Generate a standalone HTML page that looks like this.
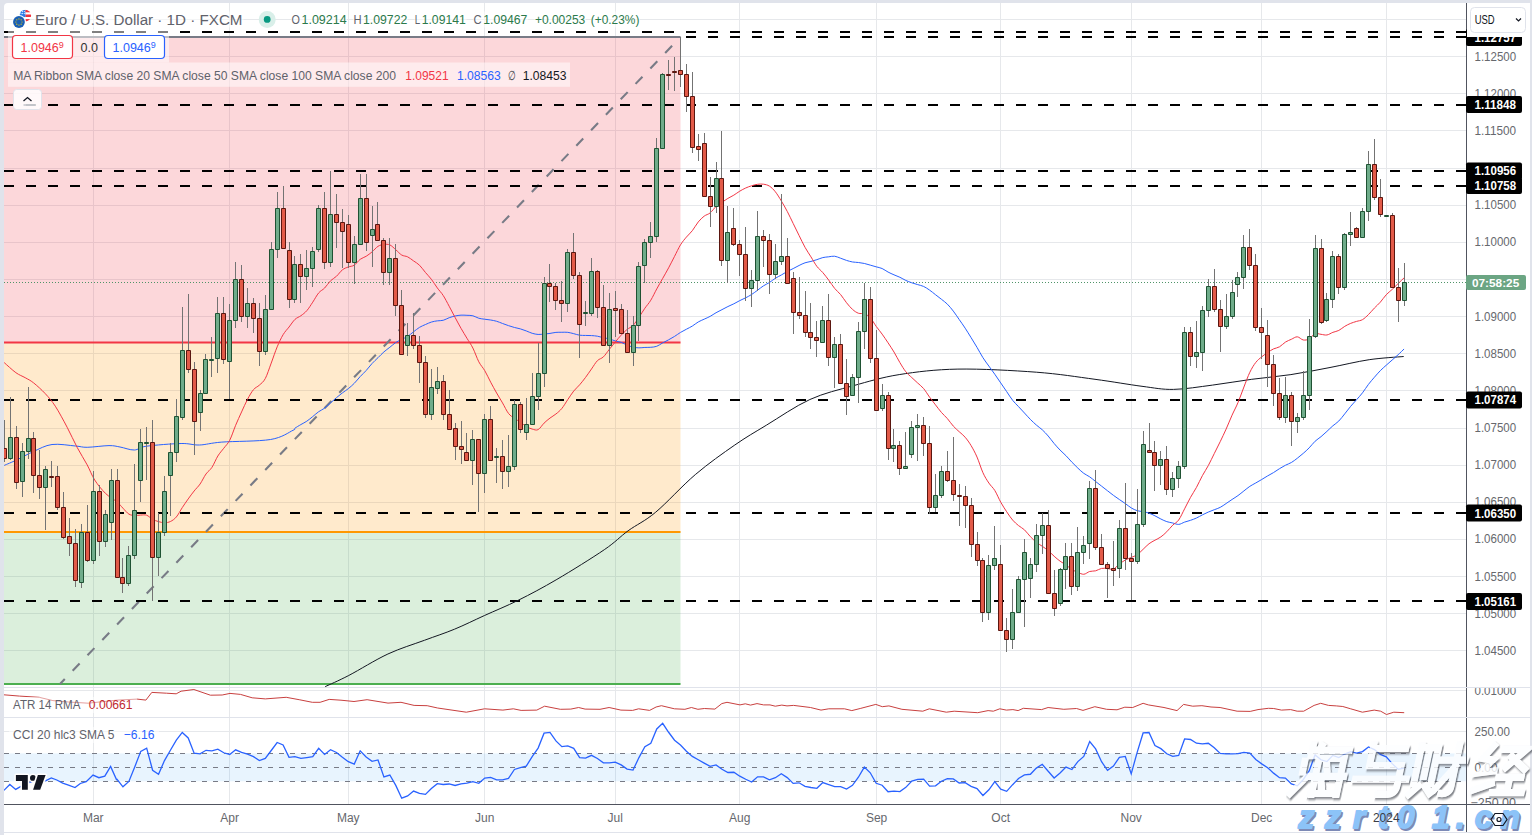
<!DOCTYPE html>
<html><head><meta charset="utf-8">
<style>
html,body{margin:0;padding:0;}
body{width:1532px;height:835px;overflow:hidden;background:#e0e3eb;position:relative;font-family:"Liberation Sans",sans-serif;}
#panel{position:absolute;left:4px;top:3px;width:1526px;height:832px;background:#fff;border-radius:4px 4px 0 0;overflow:hidden;}
svg{position:absolute;left:0;top:0;}
.t{position:absolute;white-space:nowrap;line-height:1;}
</style></head><body>
<div id="panel"></div>
<svg width="1532" height="835" viewBox="0 0 1532 835" font-family="Liberation Sans, sans-serif">
<defs>
<clipPath id="plot"><rect x="4" y="3" width="1462" height="684"/></clipPath>
<clipPath id="ccip"><rect x="4" y="718" width="1462" height="86"/></clipPath>
<clipPath id="atrp"><rect x="4" y="688" width="1462" height="29"/></clipPath>
</defs>
<g clip-path="url(#plot)">
<path d="M4 650.5 H1466 M4 613.5 H1466 M4 576.5 H1466 M4 539.5 H1466 M4 502.5 H1466 M4 465.5 H1466 M4 428.5 H1466 M4 390.5 H1466 M4 353.5 H1466 M4 316.5 H1466 M4 279.5 H1466 M4 242.5 H1466 M4 205.5 H1466 M4 168.5 H1466 M4 130.5 H1466 M4 93.5 H1466 M4 56.5 H1466 M4 19.5 H1466 M93.5 3 V804 M229.5 3 V804 M348.5 3 V804 M484.5 3 V804 M615.5 3 V804 M739.5 3 V804 M876.5 3 V804 M1000.5 3 V804 M1131.5 3 V804 M1261.5 3 V804 M1386.5 3 V804" stroke="#e6e8eb" stroke-width="1" fill="none"/>
<rect x="4" y="37" width="676.5" height="305.6" fill="rgba(242,54,69,0.2)"/>
<rect x="4" y="342.6" width="676.5" height="189.3" fill="rgba(255,152,0,0.2)"/>
<rect x="4" y="531.9" width="676.5" height="152.1" fill="rgba(76,175,80,0.2)"/>
<path d="M4 37 H680.5" stroke="#787b86" stroke-width="2"/>
<path d="M4 342.6 H680.5" stroke="#f23645" stroke-width="2"/>
<path d="M4 531.9 H680.5" stroke="#ff9800" stroke-width="2"/>
<path d="M4 684 H680.5" stroke="#4caf50" stroke-width="2"/>
<path d="M60 684 L680.5 37" stroke="#787b86" stroke-width="2.1" stroke-dasharray="10 11.4" stroke-dashoffset="3.1" fill="none"/>
<path d="M4 32 H1466 M4 105 H1466 M4 171 H1466 M4 186 H1466 M4 400 H1466 M4 513 H1466 M4 601 H1466" stroke="#000" stroke-width="2.2" stroke-dasharray="10 12" fill="none"/>
<path d="M686 37 H1466" stroke="#000" stroke-width="2.2" stroke-dasharray="10 12" fill="none"/>
<path d="M4 282.5 H1466" stroke="#4f9468" stroke-width="1" stroke-dasharray="1 2" fill="none"/>
<path d="M325.2 686.6 C329.12 684.75 338.25 680.93 348.7 675.5 C359.15 670.07 375.28 659.87 387.9 654 C400.52 648.13 413.3 644.43 424.4 640.3 C435.5 636.17 444.48 633.33 454.5 629.2 C464.52 625.07 473.85 620.33 484.5 615.5 C495.15 610.67 506.33 606.22 518.4 600.2 C530.47 594.18 542.58 587.82 556.9 579.4 C571.22 570.98 592.43 557.8 604.3 549.7 C616.17 541.6 619.53 537.05 628.1 530.8 C636.67 524.55 644.5 521.57 655.7 512.2 C666.9 502.83 682.12 485.8 695.3 474.6 C708.48 463.4 722.95 453.23 734.8 445 C746.65 436.77 753.88 432.78 766.4 425.2 C778.92 417.62 795.4 406.08 809.9 399.5 C824.4 392.92 838.52 389.85 853.4 385.7 C868.28 381.55 881.78 377.37 899.2 374.6 C916.62 371.83 935.05 369.5 957.9 369.1 C980.75 368.7 1013.45 370.5 1036.3 372.2 C1059.15 373.9 1077.38 376.95 1095 379.3 C1112.62 381.65 1128.93 384.62 1142 386.3 C1155.07 387.98 1161.65 389.6 1173.4 389.4 C1185.15 389.2 1199.45 386.78 1212.5 385.1 C1225.55 383.42 1238.63 381.05 1251.7 379.3 C1264.77 377.55 1277.85 376.57 1290.9 374.6 C1303.95 372.63 1316.95 369.98 1330 367.5 C1343.05 365.02 1356.92 361.53 1369.2 359.7 C1381.48 357.87 1397.95 357.03 1403.7 356.5" stroke="#131722" stroke-width="1" fill="none"/>
<path d="M4.2 465.4 C6.3 464.48 11.92 462.22 16.8 459.9 C21.68 457.58 27.63 454.07 33.5 451.5 C39.37 448.93 45 445.42 52 444.5 C59 443.58 69.63 445.53 75.5 446 C81.37 446.47 81.62 447.37 87.2 447.3 C92.78 447.23 103.53 445.65 109 445.6 C114.47 445.55 115.78 446.27 120 447 C124.22 447.73 129.88 450.13 134.3 450 C138.72 449.87 138.7 447.28 146.5 446.2 C154.3 445.12 172.28 443.7 181.1 443.5 C189.92 443.3 192.62 445.23 199.4 445 C206.18 444.77 209.93 443.02 221.8 442.1 C233.67 441.18 258.73 441.47 270.6 439.5 C282.47 437.53 288.94 432.18 293 430.3 C297.06 428.42 293.64 429.16 294.95 428.2 C296.27 427.24 298.91 425.73 300.88 424.56 C302.86 423.39 304.84 422.51 306.82 421.18 C308.79 419.85 310.77 418.14 312.75 416.56 C314.72 414.98 316.7 413.1 318.68 411.7 C320.65 410.31 322.63 409.63 324.61 408.18 C326.59 406.72 328.56 404.7 330.54 402.95 C332.52 401.2 334.49 399.35 336.47 397.67 C338.45 395.99 340.42 394.41 342.4 392.9 C344.38 391.39 346.36 390.21 348.33 388.62 C350.31 387.02 352.29 385.35 354.26 383.34 C356.24 381.33 358.22 378.7 360.19 376.57 C362.17 374.44 364.15 372.72 366.13 370.55 C368.1 368.38 370.08 365.67 372.06 363.53 C374.03 361.39 376.01 359.63 377.99 357.69 C379.97 355.76 381.94 353.65 383.92 351.91 C385.9 350.17 387.87 348.81 389.85 347.25 C391.83 345.69 393.8 343.85 395.78 342.52 C397.76 341.2 399.74 340.34 401.71 339.32 C403.69 338.3 405.67 337.68 407.64 336.42 C409.62 335.17 411.6 333.29 413.57 331.78 C415.55 330.28 417.53 328.58 419.5 327.37 C421.48 326.16 423.46 325.42 425.44 324.54 C427.41 323.66 429.39 322.69 431.37 322.07 C433.34 321.46 435.32 321.14 437.3 320.85 C439.27 320.55 441.25 320.81 443.23 320.29 C445.21 319.77 447.18 318.43 449.16 317.72 C451.14 317 453.11 316.43 455.09 316 C457.07 315.57 459.04 315.27 461.02 315.15 C463 315.03 464.98 315.21 466.95 315.31 C468.93 315.41 470.91 315.28 472.88 315.77 C474.86 316.26 476.84 317.66 478.81 318.24 C480.79 318.81 482.77 318.94 484.75 319.23 C486.72 319.53 488.7 319.67 490.68 320.01 C492.65 320.35 494.63 320.69 496.61 321.27 C498.58 321.85 500.56 322.77 502.54 323.49 C504.52 324.22 506.49 324.98 508.47 325.64 C510.45 326.3 512.42 326.93 514.4 327.46 C516.38 328 518.36 328.29 520.33 328.87 C522.31 329.44 524.29 330.2 526.26 330.93 C528.24 331.67 530.22 332.7 532.19 333.29 C534.17 333.87 536.15 334.31 538.12 334.44 C540.1 334.57 542.08 334.22 544.06 334.05 C546.03 333.88 548.01 333.7 549.99 333.42 C551.96 333.14 553.94 332.58 555.92 332.39 C557.89 332.2 559.87 332.29 561.85 332.28 C563.83 332.27 565.8 332.1 567.78 332.33 C569.76 332.56 571.73 333.2 573.71 333.67 C575.69 334.15 577.66 334.9 579.64 335.19 C581.62 335.49 583.6 335.38 585.57 335.45 C587.55 335.51 589.53 335.46 591.5 335.58 C593.48 335.71 595.46 335.85 597.43 336.21 C599.41 336.56 601.39 337.29 603.37 337.73 C605.34 338.18 607.32 338.36 609.3 338.89 C611.27 339.42 613.25 340.34 615.23 340.92 C617.2 341.5 619.18 341.65 621.16 342.34 C623.14 343.04 625.11 344.29 627.09 345.09 C629.07 345.89 631.04 346.68 633.02 347.14 C635 347.6 636.98 347.79 638.95 347.84 C640.93 347.89 642.91 347.53 644.88 347.44 C646.86 347.34 648.84 347.48 650.81 347.29 C652.79 347.1 654.77 347.01 656.75 346.28 C658.72 345.55 660.7 343.98 662.68 342.9 C664.65 341.82 666.63 340.88 668.61 339.8 C670.58 338.72 672.56 337.63 674.54 336.41 C676.51 335.18 678.49 333.64 680.47 332.45 C682.45 331.25 684.42 330.28 686.4 329.22 C688.38 328.15 690.35 327.26 692.33 326.05 C694.31 324.84 696.28 323.1 698.26 321.96 C700.24 320.81 702.22 320.09 704.19 319.16 C706.17 318.23 708.15 317.46 710.12 316.39 C712.1 315.31 714.08 313.83 716.05 312.71 C718.03 311.58 720.01 310.67 721.99 309.64 C723.96 308.61 725.94 307.51 727.92 306.54 C729.89 305.57 731.87 304.8 733.85 303.81 C735.82 302.82 737.8 301.6 739.78 300.6 C741.76 299.6 743.73 298.82 745.71 297.79 C747.69 296.77 749.66 295.73 751.64 294.47 C753.62 293.21 755.6 291.67 757.57 290.22 C759.55 288.78 761.53 287.1 763.5 285.82 C765.48 284.54 767.46 283.78 769.43 282.52 C771.41 281.26 773.39 279.52 775.37 278.27 C777.34 277.02 779.32 276.15 781.3 275.01 C783.27 273.88 785.25 272.54 787.23 271.47 C789.2 270.4 791.18 269.58 793.16 268.58 C795.13 267.58 797.11 266.44 799.09 265.47 C801.07 264.51 803.04 263.47 805.02 262.8 C807 262.13 808.97 261.97 810.95 261.45 C812.93 260.93 814.9 260.31 816.88 259.67 C818.86 259.02 820.84 258.07 822.81 257.59 C824.79 257.12 826.77 257.04 828.74 256.81 C830.72 256.58 832.7 255.99 834.67 256.23 C836.65 256.46 838.63 257.52 840.61 258.22 C842.58 258.92 844.56 259.79 846.54 260.41 C848.51 261.03 850.49 261.61 852.47 261.96 C854.44 262.31 856.42 262.26 858.4 262.51 C860.38 262.76 862.35 263.03 864.33 263.46 C866.31 263.9 868.28 264.55 870.26 265.12 C872.24 265.68 874.22 266.28 876.19 266.84 C878.17 267.41 880.15 267.65 882.12 268.52 C884.1 269.38 886.08 271.01 888.05 272.06 C890.03 273.11 892.01 273.95 893.99 274.82 C895.96 275.69 897.94 276.35 899.92 277.29 C901.89 278.23 903.87 279.52 905.85 280.44 C907.82 281.35 909.8 282.09 911.78 282.79 C913.75 283.49 915.73 284.01 917.71 284.62 C919.69 285.23 921.66 285.54 923.64 286.45 C925.62 287.36 927.59 288.73 929.57 290.1 C931.55 291.47 933.52 293.17 935.5 294.7 C937.48 296.23 939.46 297.7 941.43 299.28 C943.41 300.86 945.39 302.19 947.36 304.16 C949.34 306.13 951.32 308.53 953.29 311.1 C955.27 313.66 957.25 316.7 959.23 319.55 C961.2 322.39 963.18 325.15 965.16 328.17 C967.13 331.18 969.11 334.44 971.09 337.64 C973.06 340.84 975.04 344.04 977.02 347.38 C979 350.72 980.97 354.59 982.95 357.7 C984.93 360.82 986.9 363.32 988.88 366.08 C990.86 368.83 992.84 371.44 994.81 374.25 C996.79 377.06 998.77 380.05 1000.74 382.94 C1002.72 385.83 1004.7 388.7 1006.67 391.58 C1008.65 394.47 1010.63 397.74 1012.61 400.25 C1014.58 402.76 1016.56 404.5 1018.54 406.63 C1020.51 408.76 1022.49 410.89 1024.47 413.02 C1026.44 415.15 1028.42 417.41 1030.4 419.41 C1032.38 421.41 1034.35 423.31 1036.33 425.03 C1038.31 426.76 1040.28 427.94 1042.26 429.77 C1044.24 431.6 1046.21 433.74 1048.19 436.02 C1050.17 438.31 1052.14 441.13 1054.12 443.47 C1056.1 445.81 1058.08 448.02 1060.05 450.05 C1062.03 452.09 1064.01 453.67 1065.98 455.69 C1067.96 457.71 1069.94 460.12 1071.91 462.19 C1073.89 464.25 1075.87 466.25 1077.85 468.1 C1079.82 469.96 1081.8 471.88 1083.78 473.34 C1085.75 474.8 1087.73 475.5 1089.71 476.86 C1091.69 478.23 1093.66 479.96 1095.64 481.5 C1097.62 483.05 1099.59 484.6 1101.57 486.14 C1103.55 487.68 1105.52 489.22 1107.5 490.75 C1109.48 492.28 1111.45 493.89 1113.43 495.35 C1115.41 496.81 1117.39 498.15 1119.36 499.52 C1121.34 500.89 1123.32 502.15 1125.29 503.54 C1127.27 504.93 1129.25 506.69 1131.22 507.88 C1133.2 509.07 1135.18 510.05 1137.16 510.68 C1139.13 511.31 1141.11 511.24 1143.09 511.65 C1145.06 512.06 1147.04 512.45 1149.02 513.15 C1151 513.84 1152.97 514.85 1154.95 515.82 C1156.93 516.8 1158.9 518.05 1160.88 519.01 C1162.86 519.98 1164.83 520.98 1166.81 521.64 C1168.79 522.3 1170.76 522.53 1172.74 522.99 C1174.72 523.45 1176.7 524.56 1178.67 524.41 C1180.65 524.26 1182.63 522.78 1184.6 522.1 C1186.58 521.41 1188.56 521 1190.53 520.32 C1192.51 519.64 1194.49 518.91 1196.47 518 C1198.44 517.1 1200.42 515.87 1202.4 514.87 C1204.37 513.88 1206.35 512.91 1208.33 512.05 C1210.31 511.19 1212.28 510.5 1214.26 509.73 C1216.24 508.95 1218.21 508.41 1220.19 507.37 C1222.17 506.34 1224.14 504.86 1226.12 503.54 C1228.1 502.22 1230.07 500.8 1232.05 499.47 C1234.03 498.15 1236.01 497.02 1237.98 495.59 C1239.96 494.16 1241.94 492.46 1243.91 490.92 C1245.89 489.38 1247.87 487.67 1249.85 486.34 C1251.82 485.02 1253.8 484.1 1255.78 482.96 C1257.75 481.82 1259.73 480.68 1261.71 479.5 C1263.68 478.32 1265.66 477.06 1267.64 475.9 C1269.62 474.74 1271.59 473.77 1273.57 472.56 C1275.55 471.35 1277.52 469.88 1279.5 468.66 C1281.48 467.44 1283.45 466.28 1285.43 465.25 C1287.41 464.23 1289.38 463.68 1291.36 462.51 C1293.34 461.35 1295.32 459.78 1297.29 458.26 C1299.27 456.73 1301.25 455.11 1303.22 453.38 C1305.2 451.65 1307.18 449.9 1309.15 447.88 C1311.13 445.86 1313.11 443.13 1315.09 441.26 C1317.06 439.39 1319.04 438.31 1321.02 436.66 C1322.99 435.01 1324.97 433.18 1326.95 431.37 C1328.92 429.55 1330.9 427.51 1332.88 425.79 C1334.86 424.07 1336.83 423.02 1338.81 421.03 C1340.79 419.04 1342.76 416.3 1344.74 413.85 C1346.72 411.4 1348.69 408.69 1350.67 406.33 C1352.65 403.97 1354.63 401.95 1356.6 399.69 C1358.58 397.43 1360.56 395.35 1362.53 392.79 C1364.51 390.24 1366.49 386.95 1368.46 384.36 C1370.44 381.77 1372.42 379.55 1374.4 377.26 C1376.37 374.98 1378.35 372.66 1380.33 370.65 C1382.3 368.64 1384.28 366.97 1386.26 365.19 C1388.24 363.42 1390.21 361.74 1392.19 359.99 C1394.17 358.25 1396.14 356.55 1398.12 354.72 C1400.1 352.89 1403.06 349.96 1404.05 349" stroke="#2962ff" stroke-width="1" fill="none"/>
<path d="M4.2 362.6 C6.15 364.28 12.4 370.18 15.9 372.7 C19.4 375.22 22.27 376.02 25.2 377.7 C28.13 379.38 30.15 380.13 33.5 382.8 C36.85 385.47 41.67 389.8 45.3 393.7 C48.93 397.6 51.67 400.62 55.3 406.2 C58.93 411.78 63.47 420.35 67.1 427.2 C70.73 434.05 73.75 441.02 77.1 447.3 C80.45 453.58 84.27 459.45 87.2 464.9 C90.13 470.35 91.67 475.27 94.7 480 C97.73 484.73 101.68 489.64 105.4 493.3 C109.12 496.96 114.1 499.48 117.02 501.96 C119.95 504.43 120.98 506.16 122.95 508.18 C124.93 510.19 126.91 512.86 128.89 514.08 C130.86 515.29 132.84 515.32 134.82 515.48 C136.79 515.65 138.77 515.1 140.75 515.06 C142.72 515.02 144.7 514.52 146.68 515.23 C148.66 515.95 150.63 518.27 152.61 519.33 C154.59 520.39 156.56 521.04 158.54 521.61 C160.52 522.17 162.49 522.74 164.47 522.72 C166.45 522.71 168.43 522.48 170.4 521.52 C172.38 520.56 174.36 519.29 176.33 516.98 C178.31 514.66 180.29 510.65 182.26 507.64 C184.24 504.63 186.22 501.71 188.2 498.94 C190.17 496.17 192.15 493.48 194.13 491 C196.1 488.51 198.08 486.88 200.06 484.05 C202.03 481.22 204.01 476.76 205.99 473.99 C207.97 471.22 209.94 470.41 211.92 467.41 C213.9 464.41 215.87 459.18 217.85 455.99 C219.83 452.79 221.8 450.86 223.78 448.24 C225.76 445.61 227.74 444.06 229.71 440.24 C231.69 436.42 233.67 430.04 235.64 425.32 C237.62 420.61 239.6 416.29 241.57 411.96 C243.55 407.63 245.53 403.05 247.51 399.34 C249.48 395.64 251.46 392.07 253.44 389.7 C255.41 387.34 257.39 387.01 259.37 385.14 C261.34 383.28 263.32 382.18 265.3 378.5 C267.28 374.82 269.25 368.35 271.23 363.08 C273.21 357.81 275.18 351.61 277.16 346.88 C279.14 342.15 281.12 338.01 283.09 334.71 C285.07 331.4 287.05 329.59 289.02 327.04 C291 324.49 292.98 321.31 294.95 319.42 C296.93 317.53 298.91 317.18 300.88 315.73 C302.86 314.27 304.84 312.93 306.82 310.67 C308.79 308.41 310.77 305.12 312.75 302.16 C314.72 299.2 316.7 295.25 318.68 292.9 C320.65 290.55 322.63 290.06 324.61 288.04 C326.59 286.03 328.56 282.77 330.54 280.81 C332.52 278.85 334.49 278.11 336.47 276.28 C338.45 274.46 340.42 271.41 342.4 269.85 C344.38 268.29 346.36 267.73 348.33 266.95 C350.31 266.17 352.29 266.46 354.26 265.19 C356.24 263.91 358.22 260.8 360.19 259.32 C362.17 257.84 364.15 257.53 366.13 256.29 C368.1 255.05 370.08 253.54 372.06 251.88 C374.03 250.22 376.01 247.57 377.99 246.33 C379.97 245.1 381.94 244.7 383.92 244.46 C385.9 244.21 387.87 244 389.85 244.88 C391.83 245.76 393.8 248.03 395.78 249.72 C397.76 251.41 399.74 253.86 401.71 255.04 C403.69 256.23 405.67 255.87 407.64 256.85 C409.62 257.83 411.6 259.52 413.57 260.91 C415.55 262.3 417.53 263.29 419.5 265.22 C421.48 267.14 423.46 270.13 425.44 272.48 C427.41 274.82 429.39 276.7 431.37 279.27 C433.34 281.85 435.32 285.21 437.3 287.92 C439.27 290.63 441.25 292.47 443.23 295.52 C445.21 298.58 447.18 302.59 449.16 306.24 C451.14 309.89 453.11 313.76 455.09 317.44 C457.07 321.12 459.04 324.87 461.02 328.34 C463 331.81 464.98 334.97 466.95 338.25 C468.93 341.53 470.91 344.12 472.88 348.04 C474.86 351.97 476.84 358.04 478.81 361.81 C480.79 365.57 482.77 367.25 484.75 370.64 C486.72 374.04 488.7 378.47 490.68 382.19 C492.65 385.91 494.63 389.52 496.61 392.98 C498.58 396.44 500.56 399.54 502.54 402.94 C504.52 406.34 506.49 410.81 508.47 413.38 C510.45 415.94 512.42 416.89 514.4 418.34 C516.38 419.79 518.36 420.74 520.33 422.1 C522.31 423.46 524.29 425.36 526.26 426.52 C528.24 427.68 530.22 428.56 532.19 429.08 C534.17 429.6 536.15 430.62 538.12 429.63 C540.1 428.64 542.08 425.05 544.06 423.12 C546.03 421.19 548.01 419.59 549.99 418.07 C551.96 416.55 553.94 415.61 555.92 414.01 C557.89 412.41 559.87 410.86 561.85 408.46 C563.83 406.06 565.8 402.51 567.78 399.62 C569.76 396.72 571.73 393.53 573.71 391.06 C575.69 388.59 577.66 387.09 579.64 384.81 C581.62 382.53 583.6 380.02 585.57 377.38 C587.55 374.74 589.53 371.74 591.5 368.96 C593.48 366.17 595.46 362.66 597.43 360.65 C599.41 358.64 601.39 358.8 603.37 356.92 C605.34 355.04 607.32 351.85 609.3 349.37 C611.27 346.88 613.25 344.4 615.23 342.03 C617.2 339.67 619.18 337.27 621.16 335.17 C623.14 333.07 625.11 331.06 627.09 329.45 C629.07 327.83 631.04 327.51 633.02 325.48 C635 323.45 636.98 320.17 638.95 317.29 C640.93 314.41 642.91 311.05 644.88 308.21 C646.86 305.36 648.84 303.42 650.81 300.2 C652.79 296.98 654.77 292.54 656.75 288.91 C658.72 285.28 660.7 281.94 662.68 278.43 C664.65 274.92 666.63 271.51 668.61 267.83 C670.58 264.16 672.56 260.2 674.54 256.37 C676.51 252.54 678.49 248.09 680.47 244.88 C682.45 241.67 684.42 239.47 686.4 237.1 C688.38 234.73 690.35 233.19 692.33 230.67 C694.31 228.14 696.28 224.38 698.26 221.96 C700.24 219.53 702.22 217.65 704.19 216.14 C706.17 214.63 708.15 214.53 710.12 212.92 C712.1 211.31 714.08 208.25 716.05 206.47 C718.03 204.69 720.01 203.59 721.99 202.24 C723.96 200.9 725.94 199.58 727.92 198.4 C729.89 197.22 731.87 196.34 733.85 195.13 C735.82 193.93 737.8 192.36 739.78 191.17 C741.76 189.97 743.73 188.89 745.71 187.99 C747.69 187.09 749.66 186.38 751.64 185.77 C753.62 185.15 755.6 184.55 757.57 184.3 C759.55 184.04 761.53 183.91 763.5 184.21 C765.48 184.51 767.46 184.85 769.43 186.11 C771.41 187.37 773.39 189.32 775.37 191.79 C777.34 194.26 779.32 197.66 781.3 200.92 C783.27 204.18 785.25 207.6 787.23 211.36 C789.2 215.11 791.18 219.4 793.16 223.43 C795.13 227.45 797.11 231.53 799.09 235.51 C801.07 239.49 803.04 243.77 805.02 247.32 C807 250.87 808.97 253.66 810.95 256.83 C812.93 260.01 814.9 263.75 816.88 266.38 C818.86 269 820.84 270.3 822.81 272.59 C824.79 274.89 826.77 277.5 828.74 280.13 C830.72 282.77 832.7 286.02 834.67 288.43 C836.65 290.83 838.63 292.19 840.61 294.57 C842.58 296.96 844.56 300.27 846.54 302.74 C848.51 305.2 850.49 307.63 852.47 309.38 C854.44 311.13 856.42 312.5 858.4 313.24 C860.38 313.97 862.35 313.05 864.33 313.78 C866.31 314.52 868.28 315.57 870.26 317.67 C872.24 319.77 874.22 323.62 876.19 326.36 C878.17 329.1 880.15 331.38 882.12 334.12 C884.1 336.86 886.08 339.82 888.05 342.81 C890.03 345.79 892.01 348.71 893.99 352.01 C895.96 355.32 897.94 359.32 899.92 362.62 C901.89 365.91 903.87 369.29 905.85 371.78 C907.82 374.27 909.8 375.68 911.78 377.56 C913.75 379.43 915.73 381.21 917.71 383.04 C919.69 384.88 921.66 386.25 923.64 388.59 C925.62 390.93 927.59 394.39 929.57 397.11 C931.55 399.82 933.52 402.31 935.5 404.87 C937.48 407.42 939.46 410.14 941.43 412.43 C943.41 414.72 945.39 416.31 947.36 418.59 C949.34 420.86 951.32 423.89 953.29 426.09 C955.27 428.28 957.25 429.88 959.23 431.74 C961.2 433.6 963.18 434.93 965.16 437.24 C967.13 439.54 969.11 442.28 971.09 445.59 C973.06 448.89 975.04 452.54 977.02 457.06 C979 461.57 980.97 468.37 982.95 472.71 C984.93 477.04 986.9 480.1 988.88 483.06 C990.86 486.03 992.84 487.29 994.81 490.48 C996.79 493.67 998.77 498.66 1000.74 502.21 C1002.72 505.75 1004.7 508.76 1006.67 511.74 C1008.65 514.71 1010.63 517.73 1012.61 520.04 C1014.58 522.36 1016.56 523.96 1018.54 525.6 C1020.51 527.23 1022.49 528 1024.47 529.85 C1026.44 531.7 1028.42 534.62 1030.4 536.68 C1032.38 538.74 1034.35 540.58 1036.33 542.19 C1038.31 543.79 1040.28 544.89 1042.26 546.29 C1044.24 547.68 1046.21 548.92 1048.19 550.58 C1050.17 552.23 1052.14 554.47 1054.12 556.23 C1056.1 557.99 1058.08 559.69 1060.05 561.13 C1062.03 562.58 1064.01 563.53 1065.98 564.92 C1067.96 566.32 1069.94 568.28 1071.91 569.51 C1073.89 570.75 1075.87 571.52 1077.85 572.31 C1079.82 573.11 1081.8 574.41 1083.78 574.27 C1085.75 574.14 1087.73 572.06 1089.71 571.48 C1091.69 570.9 1093.66 571.33 1095.64 570.82 C1097.62 570.31 1099.59 568.79 1101.57 568.41 C1103.55 568.03 1105.52 568.4 1107.5 568.52 C1109.48 568.64 1111.45 569.86 1113.43 569.12 C1115.41 568.37 1117.39 565.55 1119.36 564.04 C1121.34 562.52 1123.32 561.12 1125.29 560.02 C1127.27 558.93 1129.25 558.38 1131.22 557.5 C1133.2 556.61 1135.18 556.07 1137.16 554.71 C1139.13 553.34 1141.11 551.16 1143.09 549.33 C1145.06 547.5 1147.04 545.25 1149.02 543.73 C1151 542.21 1152.97 541.35 1154.95 540.21 C1156.93 539.08 1158.9 538.31 1160.88 536.89 C1162.86 535.48 1164.83 533.66 1166.81 531.71 C1168.79 529.75 1170.76 527.1 1172.74 525.15 C1174.72 523.21 1176.7 522.74 1178.67 520.01 C1180.65 517.29 1182.63 512.6 1184.6 508.82 C1186.58 505.04 1188.56 500.93 1190.53 497.35 C1192.51 493.77 1194.49 490.98 1196.47 487.36 C1198.44 483.74 1200.42 479.27 1202.4 475.63 C1204.37 471.99 1206.35 469.19 1208.33 465.51 C1210.31 461.84 1212.28 457.57 1214.26 453.6 C1216.24 449.63 1218.21 445.76 1220.19 441.68 C1222.17 437.59 1224.14 433.5 1226.12 429.08 C1228.1 424.66 1230.07 419.59 1232.05 415.18 C1234.03 410.77 1236.01 407.3 1237.98 402.61 C1239.96 397.91 1241.94 392.09 1243.91 387.03 C1245.89 381.97 1247.87 376.35 1249.85 372.25 C1251.82 368.15 1253.8 365.01 1255.78 362.44 C1257.75 359.87 1259.73 358.52 1261.71 356.86 C1263.68 355.19 1265.66 353.79 1267.64 352.47 C1269.62 351.14 1271.59 349.84 1273.57 348.89 C1275.55 347.95 1277.52 347.95 1279.5 346.81 C1281.48 345.68 1283.45 343.36 1285.43 342.1 C1287.41 340.85 1289.38 340.16 1291.36 339.28 C1293.34 338.4 1295.32 336.71 1297.29 336.82 C1299.27 336.93 1301.25 339.6 1303.22 339.96 C1305.2 340.31 1307.18 339.98 1309.15 338.94 C1311.13 337.9 1313.11 334.5 1315.09 333.74 C1317.06 332.97 1319.04 334.11 1321.02 334.32 C1322.99 334.53 1324.97 335.31 1326.95 334.98 C1328.92 334.65 1330.9 333.1 1332.88 332.34 C1334.86 331.58 1336.83 331.42 1338.81 330.43 C1340.79 329.43 1342.76 327.53 1344.74 326.35 C1346.72 325.17 1348.69 324.2 1350.67 323.37 C1352.65 322.54 1354.63 322.01 1356.6 321.38 C1358.58 320.76 1360.56 320.75 1362.53 319.62 C1364.51 318.48 1366.49 316.49 1368.46 314.56 C1370.44 312.64 1372.42 310.13 1374.4 308.06 C1376.37 305.99 1378.35 304.38 1380.33 302.15 C1382.3 299.92 1384.28 296.83 1386.26 294.71 C1388.24 292.59 1390.21 291.26 1392.19 289.41 C1394.17 287.55 1396.14 285.49 1398.12 283.57 C1400.1 281.65 1403.06 278.84 1404.05 277.89" stroke="#f23645" stroke-width="1" fill="none"/>
<path d="M4.5 420 V462 M10.5 397 V460 M16.5 426 V489 M22.5 443 V497 M28.5 387 V459 M33.5 432 V493 M39.5 450 V499 M45.5 466 V530 M51.5 461 V487 M57.5 466 V510 M63.5 492 V539 M69.5 518 V556 M75.5 529 V587 M81.5 524 V588 M87.5 505 V562 M93.5 471 V564 M99.5 485 V556 M105.5 510 V547 M111.5 469 V540 M117.5 469 V578 M122.5 558 V593 M128.5 546 V586 M134.5 464 V559 M140.5 429 V502 M146.5 427 V480 M152.5 420 V601 M158.5 513 V576 M164.5 476 V536 M170.5 443 V516 M176.5 399 V462 M182.5 307 V420 M188.5 294 V373 M194.5 362 V455 M200.5 390 V431 M205.5 354 V393 M211.5 337 V377 M217.5 297 V373 M223.5 297 V364 M229.5 304 V399 M235.5 262 V328 M241.5 265 V322 M247.5 288 V328 M253.5 298 V333 M259.5 303 V366 M265.5 295 V355 M271.5 242 V309 M277.5 192 V258 M283.5 186 V248 M289.5 242 V308 M294.5 256 V303 M300.5 254 V303 M306.5 250 V290 M312.5 247 V287 M318.5 205 V252 M324.5 192 V269 M330.5 171 V267 M336.5 194 V248 M342.5 209 V268 M348.5 215 V268 M354.5 236 V284 M360.5 174 V244 M366.5 174 V251 M372.5 206 V267 M377.5 202 V240 M383.5 238 V285 M389.5 238 V285 M395.5 244 V316 M401.5 290 V354 M407.5 323 V356 M413.5 313 V349 M419.5 336 V383 M425.5 356 V418 M431.5 369 V420 M437.5 367 V394 M443.5 375 V420 M449.5 390 V429 M455.5 423 V460 M461.5 421 V464 M466.5 433 V460 M472.5 430 V485 M478.5 439 V512 M484.5 414 V493 M490.5 406 V460 M496.5 448 V483 M502.5 440 V489 M508.5 435 V487 M514.5 400 V470 M520.5 402 V433 M526.5 398 V440 M532.5 373 V424 M538.5 343 V410 M544.5 277 V387 M549.5 264 V302 M555.5 283 V310 M561.5 281 V322 M567.5 249 V312 M573.5 233 V279 M579.5 272 V358 M585.5 301 V326 M591.5 258 V316 M597.5 270 V318 M603.5 285 V345 M609.5 293 V363 M615.5 291 V337 M621.5 304 V333 M627.5 310 V352 M633.5 316 V366 M638.5 262 V341 M644.5 239 V283 M650.5 222 V258 M656.5 138 V242 M662.5 73 V148 M668.5 60 V90 M674.5 57 V91 M680.5 37 V87 M686.5 64 V112 M692.5 72 V153 M698.5 134 V161 M704.5 133 V196 M710.5 177 V227 M716.5 162 V213 M721.5 131 V266 M727.5 206 V283 M733.5 208 V246 M739.5 240 V276 M745.5 227 V301 M751.5 270 V307 M757.5 211 V291 M763.5 230 V267 M769.5 234 V294 M775.5 244 V279 M781.5 194 V265 M787.5 238 V283 M793.5 272 V334 M799.5 277 V319 M805.5 291 V337 M810.5 303 V349 M816.5 321 V357 M822.5 306 V342 M828.5 294 V366 M834.5 337 V388 M840.5 334 V383 M846.5 359 V415 M852.5 374 V395 M858.5 322 V403 M864.5 283 V349 M870.5 287 V363 M876.5 330 V410 M882.5 384 V411 M888.5 392 V460 M893.5 429 V462 M899.5 441 V475 M905.5 432 V468 M911.5 421 V458 M917.5 414 V461 M923.5 417 V456 M929.5 426 V514 M935.5 474 V512 M941.5 466 V498 M947.5 451 V482 M953.5 437 V501 M959.5 484 V526 M965.5 486 V528 M971.5 498 V557 M977.5 532 V566 M982.5 558 V622 M988.5 555 V620 M994.5 526 V570 M1000.5 545 V630 M1006.5 618 V652 M1012.5 589 V649 M1018.5 576 V612 M1024.5 539 V627 M1030.5 558 V598 M1036.5 524 V572 M1042.5 513 V554 M1048.5 510 V593 M1054.5 570 V616 M1060.5 568 V606 M1065.5 543 V589 M1071.5 543 V595 M1077.5 527 V591 M1083.5 536 V564 M1089.5 481 V559 M1095.5 470 V550 M1101.5 534 V564 M1107.5 562 V598 M1113.5 541 V586 M1119.5 520 V578 M1125.5 483 V570 M1131.5 553 V600 M1137.5 489 V564 M1143.5 431 V527 M1149.5 423 V452 M1154.5 441 V491 M1160.5 451 V485 M1166.5 446 V495 M1172.5 472 V497 M1178.5 461 V488 M1184.5 327 V469 M1190.5 327 V366 M1196.5 321 V368 M1202.5 306 V371 M1208.5 279 V317 M1214.5 269 V312 M1220.5 300 V352 M1226.5 294 V329 M1232.5 280 V319 M1237.5 272 V297 M1243.5 235 V289 M1249.5 229 V270 M1255.5 254 V331 M1261.5 308 V359 M1267.5 320 V387 M1273.5 355 V406 M1279.5 378 V420 M1285.5 377 V423 M1291.5 392 V446 M1297.5 413 V433 M1303.5 371 V420 M1309.5 319 V410 M1315.5 235 V338 M1321.5 239 V324 M1326.5 293 V322 M1332.5 251 V308 M1338.5 254 V294 M1344.5 233 V290 M1350.5 212 V246 M1356.5 227 V237 M1362.5 208 V237 M1368.5 151 V221 M1374.5 139 V200 M1380.5 179 V217 M1386.5 215 V215 M1392.5 213 V287 M1398.5 268 V322 M1404.5 263 V306" stroke="#737373" stroke-width="1" fill="none"/>
<path d="M8.5 437.5 h4 v21 h-4 Z M20.5 451.5 h4 v30 h-4 Z M26.5 438.5 h4 v13 h-4 Z M43.5 469.5 h4 v18 h-4 Z M79.5 532.5 h4 v50 h-4 Z M91.5 491.5 h4 v69 h-4 Z M103.5 514.5 h4 v27 h-4 Z M109.5 480.5 h4 v42 h-4 Z M126.5 555.5 h4 v28 h-4 Z M132.5 510.5 h4 v45 h-4 Z M138.5 442.5 h4 v38 h-4 Z M144.5 442.5 h4 v1 h-4 Z M156.5 532.5 h4 v25 h-4 Z M162.5 491.5 h4 v41 h-4 Z M168.5 452.5 h4 v23 h-4 Z M174.5 416.5 h4 v36 h-4 Z M180.5 350.5 h4 v67 h-4 Z M198.5 393.5 h4 v19 h-4 Z M203.5 359.5 h4 v34 h-4 Z M209.5 359.5 h4 v1 h-4 Z M215.5 313.5 h4 v45 h-4 Z M227.5 320.5 h4 v41 h-4 Z M233.5 279.5 h4 v41 h-4 Z M245.5 303.5 h4 v13 h-4 Z M263.5 309.5 h4 v42 h-4 Z M269.5 249.5 h4 v60 h-4 Z M275.5 208.5 h4 v41 h-4 Z M292.5 264.5 h4 v35 h-4 Z M304.5 268.5 h4 v8 h-4 Z M310.5 251.5 h4 v17 h-4 Z M316.5 208.5 h4 v41 h-4 Z M328.5 214.5 h4 v48 h-4 Z M352.5 244.5 h4 v18 h-4 Z M358.5 198.5 h4 v46 h-4 Z M370.5 229.5 h4 v6 h-4 Z M387.5 258.5 h4 v14 h-4 Z M405.5 335.5 h4 v10 h-4 Z M429.5 387.5 h4 v27 h-4 Z M435.5 381.5 h4 v7 h-4 Z M470.5 439.5 h4 v21 h-4 Z M482.5 419.5 h4 v54 h-4 Z M494.5 456.5 h4 v1 h-4 Z M506.5 466.5 h4 v5 h-4 Z M512.5 404.5 h4 v62 h-4 Z M524.5 424.5 h4 v8 h-4 Z M530.5 396.5 h4 v28 h-4 Z M536.5 373.5 h4 v23 h-4 Z M542.5 283.5 h4 v90 h-4 Z M565.5 252.5 h4 v51 h-4 Z M583.5 312.5 h4 v1 h-4 Z M589.5 271.5 h4 v42 h-4 Z M607.5 309.5 h4 v36 h-4 Z M631.5 325.5 h4 v27 h-4 Z M636.5 266.5 h4 v59 h-4 Z M642.5 242.5 h4 v23 h-4 Z M648.5 236.5 h4 v6 h-4 Z M654.5 148.5 h4 v88 h-4 Z M660.5 74.5 h4 v74 h-4 Z M714.5 178.5 h4 v28 h-4 Z M725.5 232.5 h4 v28 h-4 Z M749.5 280.5 h4 v8 h-4 Z M755.5 236.5 h4 v44 h-4 Z M773.5 261.5 h4 v13 h-4 Z M779.5 256.5 h4 v5 h-4 Z M820.5 320.5 h4 v22 h-4 Z M832.5 344.5 h4 v13 h-4 Z M850.5 377.5 h4 v18 h-4 Z M856.5 331.5 h4 v46 h-4 Z M862.5 299.5 h4 v32 h-4 Z M880.5 395.5 h4 v13 h-4 Z M891.5 445.5 h4 v3 h-4 Z M903.5 466.5 h4 v2 h-4 Z M909.5 427.5 h4 v27 h-4 Z M915.5 425.5 h4 v2 h-4 Z M933.5 495.5 h4 v12 h-4 Z M939.5 471.5 h4 v24 h-4 Z M986.5 565.5 h4 v47 h-4 Z M992.5 558.5 h4 v7 h-4 Z M1010.5 612.5 h4 v27 h-4 Z M1016.5 579.5 h4 v33 h-4 Z M1022.5 552.5 h4 v27 h-4 Z M1028.5 564.5 h4 v14 h-4 Z M1034.5 535.5 h4 v29 h-4 Z M1040.5 525.5 h4 v10 h-4 Z M1058.5 569.5 h4 v34 h-4 Z M1063.5 556.5 h4 v13 h-4 Z M1075.5 552.5 h4 v34 h-4 Z M1081.5 545.5 h4 v7 h-4 Z M1087.5 488.5 h4 v55 h-4 Z M1117.5 528.5 h4 v40 h-4 Z M1135.5 524.5 h4 v37 h-4 Z M1141.5 444.5 h4 v80 h-4 Z M1158.5 459.5 h4 v6 h-4 Z M1170.5 478.5 h4 v11 h-4 Z M1176.5 466.5 h4 v12 h-4 Z M1182.5 332.5 h4 v134 h-4 Z M1194.5 352.5 h4 v4 h-4 Z M1200.5 310.5 h4 v42 h-4 Z M1206.5 286.5 h4 v24 h-4 Z M1224.5 316.5 h4 v10 h-4 Z M1230.5 292.5 h4 v24 h-4 Z M1235.5 277.5 h4 v7 h-4 Z M1241.5 247.5 h4 v30 h-4 Z M1283.5 395.5 h4 v22 h-4 Z M1295.5 417.5 h4 v4 h-4 Z M1301.5 395.5 h4 v22 h-4 Z M1307.5 336.5 h4 v59 h-4 Z M1313.5 248.5 h4 v88 h-4 Z M1324.5 299.5 h4 v21 h-4 Z M1330.5 256.5 h4 v43 h-4 Z M1342.5 234.5 h4 v53 h-4 Z M1348.5 232.5 h4 v2 h-4 Z M1360.5 211.5 h4 v26 h-4 Z M1366.5 164.5 h4 v47 h-4 Z M1384.5 215.5 h4 v1 h-4 Z M1402.5 282.5 h4 v18 h-4 Z" fill="#6fac8a" stroke="#1f5233" stroke-width="1"/>
<path d="M2.5 448.5 h4 v10 h-4 Z M14.5 437.5 h4 v45 h-4 Z M31.5 438.5 h4 v37 h-4 Z M37.5 475.5 h4 v12 h-4 Z M49.5 476.5 h4 v1 h-4 Z M55.5 476.5 h4 v31 h-4 Z M61.5 507.5 h4 v30 h-4 Z M67.5 536.5 h4 v7 h-4 Z M73.5 543.5 h4 v37 h-4 Z M85.5 532.5 h4 v28 h-4 Z M97.5 491.5 h4 v50 h-4 Z M115.5 480.5 h4 v97 h-4 Z M120.5 577.5 h4 v6 h-4 Z M150.5 442.5 h4 v115 h-4 Z M186.5 350.5 h4 v19 h-4 Z M192.5 369.5 h4 v52 h-4 Z M221.5 313.5 h4 v46 h-4 Z M239.5 279.5 h4 v37 h-4 Z M251.5 303.5 h4 v15 h-4 Z M257.5 318.5 h4 v33 h-4 Z M281.5 208.5 h4 v40 h-4 Z M287.5 250.5 h4 v49 h-4 Z M298.5 264.5 h4 v12 h-4 Z M322.5 208.5 h4 v54 h-4 Z M334.5 214.5 h4 v8 h-4 Z M340.5 222.5 h4 v9 h-4 Z M346.5 224.5 h4 v38 h-4 Z M364.5 198.5 h4 v44 h-4 Z M375.5 224.5 h4 v16 h-4 Z M381.5 240.5 h4 v32 h-4 Z M393.5 258.5 h4 v47 h-4 Z M399.5 305.5 h4 v49 h-4 Z M411.5 335.5 h4 v10 h-4 Z M417.5 345.5 h4 v17 h-4 Z M423.5 362.5 h4 v52 h-4 Z M441.5 381.5 h4 v33 h-4 Z M447.5 414.5 h4 v15 h-4 Z M453.5 428.5 h4 v18 h-4 Z M459.5 446.5 h4 v3 h-4 Z M464.5 452.5 h4 v8 h-4 Z M476.5 439.5 h4 v34 h-4 Z M488.5 419.5 h4 v41 h-4 Z M500.5 456.5 h4 v15 h-4 Z M518.5 404.5 h4 v25 h-4 Z M547.5 283.5 h4 v3 h-4 Z M553.5 286.5 h4 v14 h-4 Z M559.5 300.5 h4 v3 h-4 Z M571.5 252.5 h4 v23 h-4 Z M577.5 275.5 h4 v49 h-4 Z M595.5 271.5 h4 v36 h-4 Z M601.5 307.5 h4 v38 h-4 Z M613.5 308.5 h4 v2 h-4 Z M619.5 309.5 h4 v24 h-4 Z M625.5 333.5 h4 v19 h-4 Z M666.5 74.5 h4 v1 h-4 Z M672.5 71.5 h4 v1 h-4 Z M678.5 70.5 h4 v4 h-4 Z M684.5 74.5 h4 v22 h-4 Z M690.5 96.5 h4 v51 h-4 Z M696.5 146.5 h4 v3 h-4 Z M702.5 143.5 h4 v53 h-4 Z M708.5 196.5 h4 v10 h-4 Z M719.5 178.5 h4 v82 h-4 Z M731.5 228.5 h4 v16 h-4 Z M737.5 244.5 h4 v10 h-4 Z M743.5 254.5 h4 v34 h-4 Z M761.5 236.5 h4 v4 h-4 Z M767.5 240.5 h4 v34 h-4 Z M785.5 256.5 h4 v27 h-4 Z M791.5 278.5 h4 v34 h-4 Z M797.5 312.5 h4 v3 h-4 Z M803.5 315.5 h4 v17 h-4 Z M808.5 332.5 h4 v5 h-4 Z M814.5 337.5 h4 v3 h-4 Z M826.5 320.5 h4 v37 h-4 Z M838.5 344.5 h4 v39 h-4 Z M844.5 383.5 h4 v13 h-4 Z M868.5 299.5 h4 v59 h-4 Z M874.5 358.5 h4 v52 h-4 Z M886.5 395.5 h4 v53 h-4 Z M897.5 445.5 h4 v23 h-4 Z M921.5 425.5 h4 v18 h-4 Z M927.5 443.5 h4 v64 h-4 Z M945.5 471.5 h4 v9 h-4 Z M951.5 480.5 h4 v14 h-4 Z M957.5 495.5 h4 v1 h-4 Z M963.5 496.5 h4 v9 h-4 Z M969.5 505.5 h4 v39 h-4 Z M975.5 544.5 h4 v16 h-4 Z M980.5 560.5 h4 v52 h-4 Z M998.5 564.5 h4 v66 h-4 Z M1004.5 630.5 h4 v9 h-4 Z M1046.5 525.5 h4 v68 h-4 Z M1052.5 593.5 h4 v15 h-4 Z M1069.5 556.5 h4 v30 h-4 Z M1093.5 488.5 h4 v59 h-4 Z M1099.5 547.5 h4 v17 h-4 Z M1105.5 564.5 h4 v4 h-4 Z M1111.5 568.5 h4 v2 h-4 Z M1123.5 528.5 h4 v30 h-4 Z M1129.5 558.5 h4 v3 h-4 Z M1147.5 450.5 h4 v2 h-4 Z M1152.5 452.5 h4 v13 h-4 Z M1164.5 459.5 h4 v30 h-4 Z M1188.5 332.5 h4 v24 h-4 Z M1212.5 286.5 h4 v23 h-4 Z M1218.5 309.5 h4 v17 h-4 Z M1247.5 247.5 h4 v18 h-4 Z M1253.5 265.5 h4 v62 h-4 Z M1259.5 327.5 h4 v5 h-4 Z M1265.5 335.5 h4 v29 h-4 Z M1271.5 364.5 h4 v29 h-4 Z M1277.5 393.5 h4 v24 h-4 Z M1289.5 395.5 h4 v26 h-4 Z M1319.5 248.5 h4 v74 h-4 Z M1336.5 256.5 h4 v31 h-4 Z M1354.5 228.5 h4 v9 h-4 Z M1372.5 164.5 h4 v33 h-4 Z M1378.5 197.5 h4 v17 h-4 Z M1390.5 215.5 h4 v72 h-4 Z M1396.5 287.5 h4 v13 h-4 Z" fill="#e25a48" stroke="#5a1610" stroke-width="1"/>
</g>
<!-- header overlay -->
<rect x="4" y="3" width="1462" height="27" fill="rgba(255,255,255,0.0)"/>
<rect x="8" y="29" width="161" height="33.5" fill="rgba(255,255,255,0.5)"/>
<rect x="8" y="62.5" width="562" height="24.3" fill="rgba(255,255,255,0.5)"/>
<!-- title -->
<defs><clipPath id="usclip"><circle cx="25.3" cy="15.6" r="5.8"/></clipPath></defs>
<g clip-path="url(#usclip)">
<rect x="19.4" y="9.7" width="12" height="12" fill="#fff"/>
<rect x="25.3" y="9.7" width="6.2" height="2.6" fill="#f0323c"/>
<rect x="25.3" y="14.5" width="6.2" height="2.5" fill="#f0323c"/>
<rect x="25.3" y="19.1" width="6.2" height="2.8" fill="#f0323c"/>
<rect x="19.4" y="9.7" width="5.9" height="7.4" fill="#2a7be8"/>
<g fill="#fff"><circle cx="22.6" cy="11.6" r=".55"/><circle cx="24.3" cy="11.6" r=".55"/><circle cx="22.6" cy="13.6" r=".55"/><circle cx="24.3" cy="13.6" r=".55"/><circle cx="21" cy="13.6" r=".55"/></g>
</g>
<circle cx="18.95" cy="22" r="7.1" fill="#fff"/>
<circle cx="18.95" cy="22" r="5.9" fill="#1a5fb4"/>
<g fill="#f5d000"><circle cx="22.05" cy="22.00" r="0.62"/><circle cx="21.14" cy="24.19" r="0.62"/><circle cx="18.95" cy="25.10" r="0.62"/><circle cx="16.76" cy="24.19" r="0.62"/><circle cx="15.85" cy="22.00" r="0.62"/><circle cx="16.76" cy="19.81" r="0.62"/><circle cx="18.95" cy="18.90" r="0.62"/><circle cx="21.14" cy="19.81" r="0.62"/></g>
<circle cx="267.2" cy="19.4" r="8.5" fill="#d9efe9"/>
<circle cx="267.2" cy="19.4" r="3.4" fill="#089981"/>
<!-- legend boxes -->
<rect x="12.5" y="35.5" width="60" height="23" rx="3.5" fill="#fff" stroke="#f23645" stroke-width="1.2"/>
<text x="20.5" y="52" font-size="12.5" fill="#f23645">1.0946<tspan font-size="9" dy="-4">9</tspan></text>
<text x="80.5" y="52" font-size="12.5" fill="#333">0.0</text>
<rect x="104.5" y="35.5" width="60" height="23" rx="3.5" fill="#fff" stroke="#2962ff" stroke-width="1.2"/>
<text x="112.5" y="52" font-size="12.5" fill="#2962ff">1.0946<tspan font-size="9" dy="-4">9</tspan></text>
<!-- collapse button -->
<rect x="13.5" y="89.5" width="28" height="20" rx="3" fill="rgba(255,255,255,0.85)" stroke="#e0e3eb" stroke-width="1"/>
<path d="M23.5 101 l4 -3.5 l4 3.5" stroke="#131722" stroke-width="1.3" fill="none"/>
<path d="M23.5 105 h12" stroke="#b2b5be" stroke-width="1.2"/>

<!-- pane separators -->
<path d="M4 690.5 H1466 M4 731.5 H1466 M93.5 688 V804 M229.5 688 V804 M348.5 688 V804 M484.5 688 V804 M615.5 688 V804 M739.5 688 V804 M876.5 688 V804 M1000.5 688 V804 M1131.5 688 V804 M1261.5 688 V804 M1386.5 688 V804" stroke="#e6e8eb" stroke-width="1" fill="none"/>
<!-- ATR pane -->
<g clip-path="url(#atrp)">
<path d="M3.9 694.8 L19.6 696.1 L39.2 697.3 L52.9 700.6 L68.5 702 L88.1 703.2 L117.5 700.1 L137.1 699.1 L145.9 700.1 L151.8 692.4 L166.4 693.2 L176.2 693.8 L181.1 691.2 L193.9 689.5 L210.4 695.2 L222.2 695 L230 693.4 L240.5 694.4 L252.2 697.8 L265.3 698.9 L286.2 697.3 L299.2 699.7 L312.3 702.3 L320.1 702.3 L329.2 699.4 L341 700.2 L354 701.5 L367.1 699.7 L388 703.1 L401 702.3 L414.1 705.4 L427.2 705.7 L437.6 708 L466.3 712.2 L484.6 708.8 L502.9 710.1 L513.3 708.8 L521.1 710.4 L536.8 710.1 L544.6 706.2 L560.3 709.3 L570.8 709.1 L578.6 707.5 L585.1 709.1 L600 709.3 L609.1 707.5 L620.9 710.1 L632.6 710.4 L638.6 708.8 L649.6 710.4 L656.1 707 L661.4 705.7 L674.4 708.8 L684.9 709.3 L691.4 707.5 L697.9 709.3 L704.4 708.5 L714.9 709.1 L721.8 703.6 L727 702.3 L740 704.9 L745.3 703.8 L750.5 705.1 L757 703.6 L763.6 704.9 L770 704.9 L775.3 706.2 L781.8 705.1 L787 705.9 L793.6 705.4 L810.5 707.5 L821 710.1 L828.8 708.8 L844.5 708.8 L851.8 710.6 L860.2 708.5 L875.8 704.4 L882.3 706.7 L888.9 705.9 L901.9 709.3 L922.8 711.2 L929.3 708.8 L946.3 712.2 L954.2 711.2 L977.7 712.7 L988.1 710.6 L993.3 711.2 L999.8 708.8 L1006.4 710.1 L1012.9 709.6 L1018.1 710.6 L1023.3 708.3 L1041.6 709.6 L1048.1 707.5 L1063.8 709.3 L1076.5 708.5 L1083 710.4 L1094.8 706.7 L1106.6 709.3 L1117 709.8 L1124.8 707.2 L1132.7 707.5 L1143.1 703.3 L1148.3 704.9 L1164 707.5 L1177 710.6 L1183.6 704.4 L1192.7 706.2 L1201.9 705.7 L1211 707 L1220.1 707.5 L1237.1 711.2 L1250.2 711.4 L1258 709.6 L1268.4 708.3 L1273.7 708.5 L1281.5 710.1 L1290.6 709.6 L1297.2 711.2 L1303.7 711.2 L1314.1 705.4 L1320.7 703.3 L1328.5 705.4 L1336.3 705.9 L1342.8 706.5 L1350.7 708.8 L1362.4 712.2 L1374.2 710.1 L1380.7 711.2 L1386.5 714.5 L1393.8 712.2 L1404.2 712.7" stroke="#c8403f" stroke-width="1" fill="none"/>
</g>
<!-- CCI pane -->
<rect x="4" y="753.4" width="1462" height="27.9" fill="rgba(33,150,243,0.1)"/>
<path d="M4 753.5 H1466 M4 767.5 H1466 M4 781.5 H1466" stroke="#787b86" stroke-width="1" stroke-dasharray="5 6" fill="none"/>
<g clip-path="url(#ccip)">
<path d="M3.9 790.4 L9.8 784.5 L15.7 789.4 L19.6 787.1 L28 783 L34 781 L40 782 L46 780.6 L51.3 778 L56.8 780 L62.7 783.1 L68.5 785.1 L75 787.5 L80.3 783.5 L86.2 781.6 L93 775.1 L98.9 777.7 L104.8 776.1 L110.6 766.5 L116.5 779.6 L117.02 779.38 L122.95 786.81 L128.89 781.38 L134.82 766.73 L140.75 751.38 L146.68 748.13 L152.61 770.28 L158.54 774.19 L164.47 760.58 L170.4 750.22 L176.33 740.19 L182.26 732.46 L188.2 737.92 L194.13 753.16 L200.06 753.78 L205.99 750.3 L211.92 750.93 L217.85 749.16 L223.78 752.75 L229.71 754.46 L235.64 749.8 L241.57 752.41 L247.51 754.21 L253.44 756.59 L259.37 760.63 L265.3 758.34 L271.23 750.51 L277.16 742.49 L283.09 744.95 L289.02 757.4 L294.95 756.54 L300.88 758.39 L306.82 757.54 L312.75 756.69 L318.68 748.32 L324.61 754.46 L330.54 749.77 L336.47 752.49 L342.4 757.29 L348.33 761.7 L354.26 764.07 L360.19 750.81 L366.13 756.98 L372.06 761.26 L377.99 759.92 L383.92 776.98 L389.85 775.03 L395.78 785.4 L401.71 798.15 L407.64 795.88 L413.57 791.07 L419.5 793.27 L425.44 794.36 L431.37 788.46 L437.3 783.67 L443.23 784.51 L449.16 783.99 L455.09 785.46 L461.02 783.78 L466.95 783.19 L472.88 781.66 L478.81 783.35 L484.75 778.01 L490.68 777.35 L496.61 779.87 L502.54 779.79 L508.47 778.39 L514.4 769.46 L520.33 767.63 L526.26 766.12 L532.19 756.71 L538.12 748.07 L544.06 733.16 L549.99 732.36 L555.92 740.95 L561.85 746.61 L567.78 745.87 L573.71 748.33 L579.64 757.66 L585.57 758.09 L591.5 755.31 L597.43 758.54 L603.37 762.78 L609.3 762.93 L615.23 762.17 L621.16 764.85 L627.09 769.13 L633.02 770.15 L638.95 757.59 L644.88 746.8 L650.81 743.23 L656.75 728.96 L662.68 723.37 L668.61 732.26 L674.54 740.19 L680.47 744.98 L686.4 751.16 L692.33 756.37 L698.26 759.79 L704.19 763.07 L710.12 766.32 L716.05 764.89 L721.99 769.27 L727.92 772.48 L733.85 772.28 L739.78 776.19 L745.71 779.22 L751.64 782.01 L757.57 776.84 L763.5 776.93 L769.43 779.75 L775.37 777.74 L781.3 773.82 L787.23 777.63 L793.16 783.35 L799.09 782.81 L805.02 786.36 L810.95 787.49 L816.88 788.31 L822.81 782.51 L828.74 784.52 L834.67 786.61 L840.61 786.6 L846.54 789.04 L852.47 785.27 L858.4 777.22 L864.33 767.06 L870.26 772.8 L876.19 783.27 L882.12 785.21 L888.05 791.74 L893.99 791.13 L899.92 791.65 L905.85 787.36 L911.78 781.11 L917.71 779.29 L923.64 779.2 L929.57 786.16 L935.5 785.82 L941.43 781.2 L947.36 778.66 L953.29 778.95 L959.23 782.98 L965.16 782.68 L971.09 786.34 L977.02 788.52 L982.95 795.5 L988.88 789.79 L994.81 781.66 L1000.74 789.11 L1006.67 791.32 L1012.61 784.68 L1018.54 778.55 L1024.47 774.94 L1030.4 774.26 L1036.33 768.12 L1042.26 764.25 L1048.19 771.28 L1054.12 777.98 L1060.05 773.04 L1065.98 767.07 L1071.91 769.56 L1077.85 761.63 L1083.78 756.45 L1089.71 741.58 L1095.64 748.92 L1101.57 761.72 L1107.5 770.35 L1113.43 766.03 L1119.36 757.34 L1125.29 756.44 L1131.22 773.81 L1137.16 752.31 L1143.09 732.96 L1149.02 732.55 L1154.95 745.52 L1160.88 748.64 L1166.81 753.81 L1172.74 756.4 L1178.67 755.47 L1184.6 738.95 L1190.53 739.5 L1196.47 743.2 L1202.4 743.87 L1208.33 743.25 L1214.26 747.67 L1220.19 753.4 L1226.12 753.82 L1232.05 753.8 L1237.98 753.67 L1243.91 752.35 L1249.85 753 L1255.78 759.53 L1261.71 763.87 L1267.64 767.83 L1273.57 773.14 L1279.5 777.67 L1285.43 778.04 L1291.36 783.95 L1297.29 785.87 L1303.22 779.64 L1309.15 770.87 L1315.09 754.88 L1321.02 759.76 L1326.95 761.53 L1332.88 755.42 L1338.81 757.65 L1344.74 754.05 L1350.67 751.64 L1356.6 753.17 L1362.53 751.55 L1368.46 746.98 L1374.4 749.53 L1380.33 754.33 L1386.26 756.87 L1392.19 763.6 L1398.12 769.27 L1404.05 768.19" stroke="#2962ff" stroke-width="1.3" fill="none"/>
</g>
<!-- TV logo -->
<g stroke="#fff" stroke-width="3.2" stroke-linejoin="round" paint-order="stroke" fill="#131722">
<path d="M15.9 775.1 H27.8 V789.8 H22 V780.9 H15.9 Z"/>
<circle cx="32.9" cy="777.9" r="2.9"/>
<path d="M37.9 775.1 H45.6 L40.2 789.8 H33.1 Z"/>
</g>
<!-- price axis -->
<path d="M1466.5 3 V832" stroke="#50535e" stroke-width="1"/>
<path d="M4 804.5 H1530" stroke="#50535e" stroke-width="1"/>
<path d="M4 832.5 H1530" stroke="#e0e3eb" stroke-width="1"/>
<text x="1474.5" y="654.7" font-size="12.2" fill="#66686d" textLength="41.6" lengthAdjust="spacingAndGlyphs">1.04500</text>
<text x="1474.5" y="617.6" font-size="12.2" fill="#66686d" textLength="41.6" lengthAdjust="spacingAndGlyphs">1.05000</text>
<text x="1474.5" y="580.5" font-size="12.2" fill="#66686d" textLength="41.6" lengthAdjust="spacingAndGlyphs">1.05500</text>
<text x="1474.5" y="543.3" font-size="12.2" fill="#66686d" textLength="41.6" lengthAdjust="spacingAndGlyphs">1.06000</text>
<text x="1474.5" y="506.2" font-size="12.2" fill="#66686d" textLength="41.6" lengthAdjust="spacingAndGlyphs">1.06500</text>
<text x="1474.5" y="469.0" font-size="12.2" fill="#66686d" textLength="41.6" lengthAdjust="spacingAndGlyphs">1.07000</text>
<text x="1474.5" y="431.9" font-size="12.2" fill="#66686d" textLength="41.6" lengthAdjust="spacingAndGlyphs">1.07500</text>
<text x="1474.5" y="394.7" font-size="12.2" fill="#66686d" textLength="41.6" lengthAdjust="spacingAndGlyphs">1.08000</text>
<text x="1474.5" y="357.6" font-size="12.2" fill="#66686d" textLength="41.6" lengthAdjust="spacingAndGlyphs">1.08500</text>
<text x="1474.5" y="320.5" font-size="12.2" fill="#66686d" textLength="41.6" lengthAdjust="spacingAndGlyphs">1.09000</text>
<text x="1474.5" y="246.2" font-size="12.2" fill="#66686d" textLength="41.6" lengthAdjust="spacingAndGlyphs">1.10000</text>
<text x="1474.5" y="209.0" font-size="12.2" fill="#66686d" textLength="41.6" lengthAdjust="spacingAndGlyphs">1.10500</text>
<text x="1474.5" y="171.9" font-size="12.2" fill="#66686d" textLength="41.6" lengthAdjust="spacingAndGlyphs">1.11000</text>
<text x="1474.5" y="134.7" font-size="12.2" fill="#66686d" textLength="41.6" lengthAdjust="spacingAndGlyphs">1.11500</text>
<text x="1474.5" y="97.6" font-size="12.2" fill="#66686d" textLength="41.6" lengthAdjust="spacingAndGlyphs">1.12000</text>
<text x="1474.5" y="60.5" font-size="12.2" fill="#66686d" textLength="41.6" lengthAdjust="spacingAndGlyphs">1.12500</text>
<rect x="1466" y="29.0" width="56" height="17" rx="2" fill="#000"/>
<text x="1474.5" y="41.9" font-size="12.4" font-weight="bold" fill="#fff" textLength="41.6" lengthAdjust="spacingAndGlyphs">1.12757</text>
<rect x="1467" y="3" width="63" height="34" fill="#fff"/>
<rect x="1466" y="96.1" width="56" height="17" rx="2" fill="#000"/>
<text x="1474.5" y="109.0" font-size="12.4" font-weight="bold" fill="#fff" textLength="41.6" lengthAdjust="spacingAndGlyphs">1.11848</text>
<rect x="1466" y="162.4" width="56" height="17" rx="2" fill="#000"/>
<text x="1474.5" y="175.3" font-size="12.4" font-weight="bold" fill="#fff" textLength="41.6" lengthAdjust="spacingAndGlyphs">1.10956</text>
<rect x="1466" y="177.1" width="56" height="17" rx="2" fill="#000"/>
<text x="1474.5" y="190.0" font-size="12.4" font-weight="bold" fill="#fff" textLength="41.6" lengthAdjust="spacingAndGlyphs">1.10758</text>
<rect x="1466" y="391.4" width="56" height="17" rx="2" fill="#000"/>
<text x="1474.5" y="404.3" font-size="12.4" font-weight="bold" fill="#fff" textLength="41.6" lengthAdjust="spacingAndGlyphs">1.07874</text>
<rect x="1466" y="504.6" width="56" height="17" rx="2" fill="#000"/>
<text x="1474.5" y="517.5" font-size="12.4" font-weight="bold" fill="#fff" textLength="41.6" lengthAdjust="spacingAndGlyphs">1.06350</text>
<rect x="1466" y="592.9" width="56" height="17" rx="2" fill="#000"/>
<text x="1474.5" y="605.8" font-size="12.4" font-weight="bold" fill="#fff" textLength="41.6" lengthAdjust="spacingAndGlyphs">1.05161</text>
<rect x="1466" y="275" width="60" height="15" rx="2" fill="#6ba583"/>
<text x="1472" y="286.5" font-size="11.8" font-weight="bold" fill="#fff">07:58:25</text>
<rect x="1470.5" y="7.5" width="55" height="25" rx="4" fill="#fff" stroke="#e0e3eb" stroke-width="1"/>
<text x="1474.7" y="24" font-size="12.5" fill="#131722" textLength="20" lengthAdjust="spacingAndGlyphs">USD</text>
<path d="M1516 18.5 l2.5 2.5 l2.5 -2.5" stroke="#131722" stroke-width="1.2" fill="none"/>
<defs><clipPath id="atax"><rect x="1467" y="688" width="63" height="29"/></clipPath></defs>
<text x="1474.5" y="694.6" font-size="12.2" fill="#66686d" clip-path="url(#atax)" textLength="41.6" lengthAdjust="spacingAndGlyphs">0.01000</text>
<text x="1474.5" y="735.8" font-size="12.2" fill="#66686d" textLength="35.5" lengthAdjust="spacingAndGlyphs">250.00</text>
<text x="1474.5" y="771.6" font-size="12.2" fill="#66686d" textLength="23" lengthAdjust="spacingAndGlyphs">0.00</text>
<defs><clipPath id="ccax"><rect x="1467" y="718" width="63" height="86"/></clipPath></defs>
<text x="1470.5" y="806.5" font-size="12.2" fill="#66686d" clip-path="url(#ccax)" textLength="45.5" lengthAdjust="spacingAndGlyphs">−250.00</text>
<text x="93.3" y="822" font-size="12" fill="#66686d" text-anchor="middle">Mar</text>
<text x="229.7" y="822" font-size="12" fill="#66686d" text-anchor="middle">Apr</text>
<text x="348.3" y="822" font-size="12" fill="#66686d" text-anchor="middle">May</text>
<text x="484.8" y="822" font-size="12" fill="#66686d" text-anchor="middle">Jun</text>
<text x="615.2" y="822" font-size="12" fill="#66686d" text-anchor="middle">Jul</text>
<text x="739.8" y="822" font-size="12" fill="#66686d" text-anchor="middle">Aug</text>
<text x="876.6" y="822" font-size="12" fill="#66686d" text-anchor="middle">Sep</text>
<text x="1000.7" y="822" font-size="12" fill="#66686d" text-anchor="middle">Oct</text>
<text x="1131.2" y="822" font-size="12" fill="#66686d" text-anchor="middle">Nov</text>
<text x="1261.7" y="822" font-size="12" fill="#66686d" text-anchor="middle">Dec</text>
<path d="M4 687.5 H1530 M4 717.5 H1530" stroke="#e0e3eb" stroke-width="1"/>
<rect x="34" y="11.5" width="209.5" height="16" fill="#fff" fill-opacity="0.5"/>
<rect x="291" y="11.5" width="56" height="16" fill="#fff" fill-opacity="0.5"/>
<rect x="353" y="11.5" width="55" height="16" fill="#fff" fill-opacity="0.5"/>
<rect x="414.5" y="11.5" width="52.0" height="16" fill="#fff" fill-opacity="0.5"/>
<rect x="473" y="11.5" width="55" height="16" fill="#fff" fill-opacity="0.5"/>
<rect x="534.5" y="11.5" width="51.5" height="16" fill="#fff" fill-opacity="0.5"/>
<rect x="590.5" y="11.5" width="49.5" height="16" fill="#fff" fill-opacity="0.5"/>
<text x="35.1" y="25" font-size="15.5" fill="#5f626b" textLength="207.4" lengthAdjust="spacingAndGlyphs" >Euro / U.S. Dollar · 1D · FXCM</text>
<text x="291.6" y="24" font-size="13" fill="#5f626b" textLength="8.4" lengthAdjust="spacingAndGlyphs" >O</text>
<text x="301.5" y="24" font-size="13" fill="#2b7a4b" textLength="45.1" lengthAdjust="spacingAndGlyphs" >1.09214</text>
<text x="353.5" y="24" font-size="13" fill="#5f626b" textLength="8.1" lengthAdjust="spacingAndGlyphs" >H</text>
<text x="363" y="24" font-size="13" fill="#2b7a4b" textLength="44.3" lengthAdjust="spacingAndGlyphs" >1.09722</text>
<text x="414.8" y="24" font-size="13" fill="#5f626b" textLength="5.4" lengthAdjust="spacingAndGlyphs" >L</text>
<text x="421.7" y="24" font-size="13" fill="#2b7a4b" textLength="44.1" lengthAdjust="spacingAndGlyphs" >1.09141</text>
<text x="473.6" y="24" font-size="13" fill="#5f626b" textLength="8.1" lengthAdjust="spacingAndGlyphs" >C</text>
<text x="483.2" y="24" font-size="13" fill="#2b7a4b" textLength="44.2" lengthAdjust="spacingAndGlyphs" >1.09467</text>
<text x="534.9" y="24" font-size="13" fill="#2b7a4b" textLength="50.4" lengthAdjust="spacingAndGlyphs" >+0.00253</text>
<text x="590.8" y="24" font-size="13" fill="#2b7a4b" textLength="48.6" lengthAdjust="spacingAndGlyphs" >(+0.23%)</text>
<text x="13.2" y="80" font-size="13" fill="#5f626b" textLength="382.8" lengthAdjust="spacingAndGlyphs" >MA Ribbon SMA close 20 SMA close 50 SMA close 100 SMA close 200</text>
<text x="405.3" y="80" font-size="13" fill="#f23645" textLength="43.3" lengthAdjust="spacingAndGlyphs" >1.09521</text>
<text x="456.9" y="80" font-size="13" fill="#2962ff" textLength="43.8" lengthAdjust="spacingAndGlyphs" >1.08563</text>
<text x="508.4" y="80" font-size="13" fill="#3a3d45" textLength="7.4" lengthAdjust="spacingAndGlyphs" >∅</text>
<text x="522.7" y="80" font-size="13" fill="#131722" textLength="43.8" lengthAdjust="spacingAndGlyphs" >1.08453</text>
<rect x="9" y="697" width="128" height="16" fill="#fff" fill-opacity="0.5"/>
<rect x="9" y="727" width="150" height="16" fill="#fff" fill-opacity="0.5"/>
<text x="13.1" y="709" font-size="12.7" fill="#5f626b" textLength="67.3" lengthAdjust="spacingAndGlyphs" >ATR 14 RMA</text>
<text x="88.8" y="709" font-size="12.7" fill="#bf2a30" textLength="43.8" lengthAdjust="spacingAndGlyphs" >0.00661</text>
<text x="13.1" y="738.8" font-size="12.7" fill="#5f626b" textLength="101.3" lengthAdjust="spacingAndGlyphs" >CCI 20 hlc3 SMA 5</text>
<text x="123.8" y="738.8" font-size="12.7" fill="#2962ff" textLength="30.6" lengthAdjust="spacingAndGlyphs" >−6.16</text>
<defs><filter id="wsh" x="-20%" y="-20%" width="140%" height="140%"><feGaussianBlur stdDeviation="0.9"/></filter></defs>
<g transform="translate(1299,744) skewX(-12) scale(0.86,0.9)">
<mask id="wm0" maskUnits="userSpaceOnUse" x="-20" y="-10" width="100" height="80"><rect x="-20" y="-10" width="100" height="80" fill="#fff"/><path d="M17 1 V13 M11 19 V31 M2 55 L16 38 M27 2 L22 12 M24 7 H60 M27 16 H56 V56 M27 16 V56 M21 36 H60 M25 55 H56 M37 22 L39 29 M35 42 L37 49" stroke="#000" stroke-width="8" fill="none" stroke-linecap="square"/></mask>
<g mask="url(#wm0)"><path d="M17 1 V13 M11 19 V31 M2 55 L16 38 M27 2 L22 12 M24 7 H60 M27 16 H56 V56 M27 16 V56 M21 36 H60 M25 55 H56 M37 22 L39 29 M35 42 L37 49" stroke="#4f535b" stroke-width="8" fill="none" stroke-linecap="square" transform="translate(1.8,2.2)" filter="url(#wsh)" opacity="0.7"/></g>
<path d="M17 1 V13 M11 19 V31 M2 55 L16 38 M27 2 L22 12 M24 7 H60 M27 16 H56 V56 M27 16 V56 M21 36 H60 M25 55 H56 M37 22 L39 29 M35 42 L37 49" stroke="#fdfeff" stroke-width="8" fill="none" stroke-linecap="square" opacity="0.82"/>
</g>
<g transform="translate(1362,744) skewX(-12) scale(0.86,0.9)">
<mask id="wm1" maskUnits="userSpaceOnUse" x="-20" y="-10" width="100" height="80"><rect x="-20" y="-10" width="100" height="80" fill="#fff"/><path d="M14 1 V24 H51 M14 5 H52 M1 39 H60 M51 24 V47 Q51 56 41 56 H31" stroke="#000" stroke-width="8" fill="none" stroke-linecap="square"/></mask>
<g mask="url(#wm1)"><path d="M14 1 V24 H51 M14 5 H52 M1 39 H60 M51 24 V47 Q51 56 41 56 H31" stroke="#4f535b" stroke-width="8" fill="none" stroke-linecap="square" transform="translate(1.8,2.2)" filter="url(#wsh)" opacity="0.7"/></g>
<path d="M14 1 V24 H51 M14 5 H52 M1 39 H60 M51 24 V47 Q51 56 41 56 H31" stroke="#fdfeff" stroke-width="8" fill="none" stroke-linecap="square" opacity="0.82"/>
</g>
<g transform="translate(1417,744) skewX(-12) scale(0.86,0.9)">
<mask id="wm2" maskUnits="userSpaceOnUse" x="-20" y="-10" width="100" height="80"><rect x="-20" y="-10" width="100" height="80" fill="#fff"/><path d="M6 2 V44 M6 4 H26 V44 M16 12 V36 M12 47 L3 56 M20 47 L27 55 M32 18 H60 M50 1 V48 Q50 56 40 55 M50 25 L32 50" stroke="#000" stroke-width="8" fill="none" stroke-linecap="square"/></mask>
<g mask="url(#wm2)"><path d="M6 2 V44 M6 4 H26 V44 M16 12 V36 M12 47 L3 56 M20 47 L27 55 M32 18 H60 M50 1 V48 Q50 56 40 55 M50 25 L32 50" stroke="#4f535b" stroke-width="8" fill="none" stroke-linecap="square" transform="translate(1.8,2.2)" filter="url(#wsh)" opacity="0.7"/></g>
<path d="M6 2 V44 M6 4 H26 V44 M16 12 V36 M12 47 L3 56 M20 47 L27 55 M32 18 H60 M50 1 V48 Q50 56 40 55 M50 25 L32 50" stroke="#fdfeff" stroke-width="8" fill="none" stroke-linecap="square" opacity="0.82"/>
</g>
<g transform="translate(1480,744) skewX(-12) scale(0.86,0.9)">
<mask id="wm3" maskUnits="userSpaceOnUse" x="-20" y="-10" width="100" height="80"><rect x="-20" y="-10" width="100" height="80" fill="#fff"/><path d="M17 2 L7 16 L19 18 L7 32 L23 30 M4 51 L23 44 M30 6 H56 L36 26 M40 14 L58 28 M30 37 H56 M43 37 V53 M26 54 H60" stroke="#000" stroke-width="8" fill="none" stroke-linecap="square"/></mask>
<g mask="url(#wm3)"><path d="M17 2 L7 16 L19 18 L7 32 L23 30 M4 51 L23 44 M30 6 H56 L36 26 M40 14 L58 28 M30 37 H56 M43 37 V53 M26 54 H60" stroke="#4f535b" stroke-width="8" fill="none" stroke-linecap="square" transform="translate(1.8,2.2)" filter="url(#wsh)" opacity="0.7"/></g>
<path d="M17 2 L7 16 L19 18 L7 32 L23 30 M4 51 L23 44 M30 6 H56 L36 26 M40 14 L58 28 M30 37 H56 M43 37 V53 M26 54 H60" stroke="#fdfeff" stroke-width="8" fill="none" stroke-linecap="square" opacity="0.82"/>
</g>
<g font-size="32" font-weight="bold" font-style="italic" font-family="Liberation Sans, sans-serif">
<text x="1299.8" y="829.6" fill="#7d8ab6" stroke="#7d8ab6" stroke-width="1.8" stroke-linejoin="round">z</text>
<text x="1326.3" y="829.6" fill="#7d8ab6" stroke="#7d8ab6" stroke-width="1.8" stroke-linejoin="round">z</text>
<text x="1354.3" y="829.6" fill="#7d8ab6" stroke="#7d8ab6" stroke-width="1.8" stroke-linejoin="round">r</text>
<text x="1379.3" y="829.6" fill="#7d8ab6" stroke="#7d8ab6" stroke-width="1.8" stroke-linejoin="round">t</text>
<text x="1398.3" y="829.6" fill="#7d8ab6" stroke="#7d8ab6" stroke-width="1.8" stroke-linejoin="round">0</text>
<text x="1433.3" y="829.6" fill="#7d8ab6" stroke="#7d8ab6" stroke-width="1.8" stroke-linejoin="round">1</text>
<text x="1457.3" y="829.6" fill="#7d8ab6" stroke="#7d8ab6" stroke-width="1.8" stroke-linejoin="round">.</text>
<text x="1476.3" y="829.6" fill="#7d8ab6" stroke="#7d8ab6" stroke-width="1.8" stroke-linejoin="round">c</text>
<text x="1501.8" y="829.6" fill="#7d8ab6" stroke="#7d8ab6" stroke-width="1.8" stroke-linejoin="round">n</text>
<text x="1298.3" y="828.2" fill="#8cc3f8" stroke="#8cc3f8" stroke-width="1.8" stroke-linejoin="round">z</text>
<text x="1324.8" y="828.2" fill="#8cc3f8" stroke="#8cc3f8" stroke-width="1.8" stroke-linejoin="round">z</text>
<text x="1352.8" y="828.2" fill="#8cc3f8" stroke="#8cc3f8" stroke-width="1.8" stroke-linejoin="round">r</text>
<text x="1377.8" y="828.2" fill="#8cc3f8" stroke="#8cc3f8" stroke-width="1.8" stroke-linejoin="round">t</text>
<text x="1396.8" y="828.2" fill="#8cc3f8" stroke="#8cc3f8" stroke-width="1.8" stroke-linejoin="round">0</text>
<text x="1431.8" y="828.2" fill="#8cc3f8" stroke="#8cc3f8" stroke-width="1.8" stroke-linejoin="round">1</text>
<text x="1455.8" y="828.2" fill="#8cc3f8" stroke="#8cc3f8" stroke-width="1.8" stroke-linejoin="round">.</text>
<text x="1474.8" y="828.2" fill="#8cc3f8" stroke="#8cc3f8" stroke-width="1.8" stroke-linejoin="round">c</text>
<text x="1500.3" y="828.2" fill="#8cc3f8" stroke="#8cc3f8" stroke-width="1.8" stroke-linejoin="round">n</text>
</g>
<path d="M1466.5 718 V832" stroke="#50535e" stroke-width="1"/>
<text x="1386.3" y="822" font-size="12" fill="#3a3d45" text-anchor="middle">2024</text>
<path d="M1495 813.5 h8 l4 6 l-4 6 h-8 l-4 -6 z" fill="none" stroke="#131722" stroke-width="1.2"/>
<circle cx="1499" cy="819.5" r="2" fill="none" stroke="#131722" stroke-width="1.2"/>
</svg>
</body></html>
